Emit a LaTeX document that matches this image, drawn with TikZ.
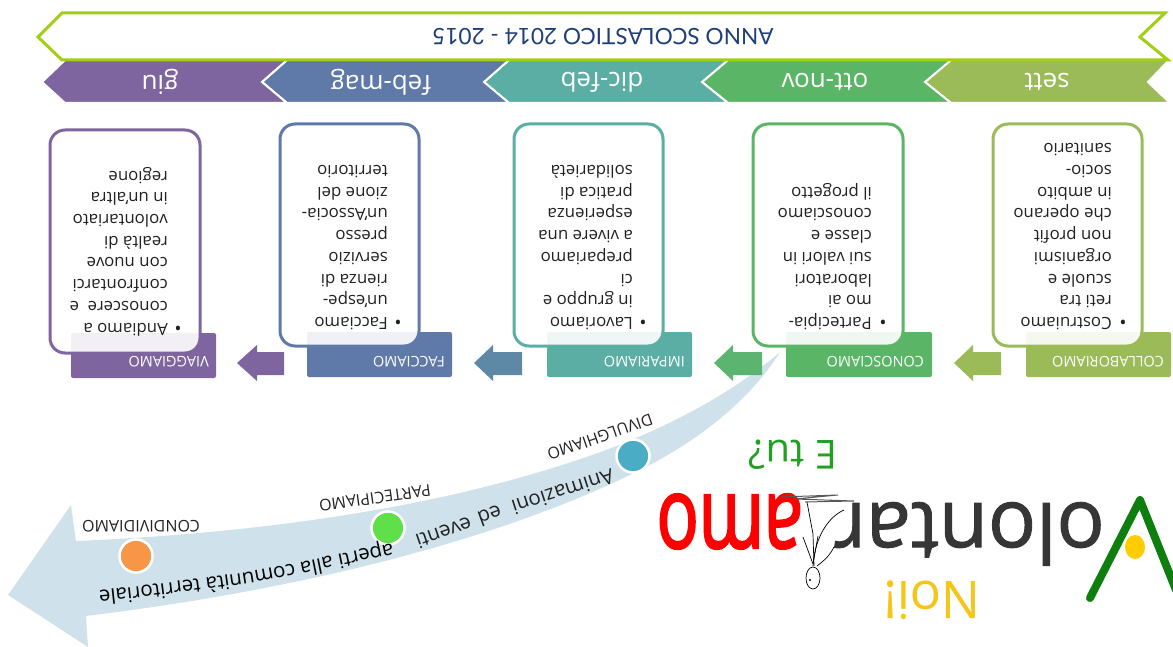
\documentclass[tikz,border=0pt]{standalone}
\usepackage{fontspec}
\setmainfont{Open Sans}
\newfontfamily\titlefont{Lato}
\newfontfamily\logofont[FakeBold=1.2]{Open Sans}
\newfontfamily\amofont[FakeBold=2.5]{Open Sans}
\usetikzlibrary{decorations.text}
\definecolor{cpurple}{HTML}{7F659F}
\definecolor{cblue}{HTML}{5F79A8}
\definecolor{cteal}{HTML}{5BAEA3}
\definecolor{cgreen}{HTML}{5BB566}
\definecolor{colive}{HTML}{9BBB59}
\definecolor{cban}{HTML}{A2CE14}
\definecolor{cnavy}{HTML}{1F3F7A}
\definecolor{csky}{HTML}{CFE2EB}
\definecolor{ctxt}{HTML}{222222}
\definecolor{cgrey}{HTML}{363636}
\definecolor{dotblue}{HTML}{4BACC6}
\definecolor{dotgreen}{HTML}{5FE04B}
\definecolor{dotorange}{HTML}{F79646}
\definecolor{logogreen}{HTML}{0E7F0E}
\definecolor{logoyellow}{HTML}{FFCC00}
\definecolor{noiyellow}{HTML}{F5C518}
\definecolor{tugreen}{HTML}{22A022}
\tikzset{
  updown/.style={rotate=180,inner sep=0pt},
  chev/.style={fill=#1,draw=white,line width=2pt,line join=miter},
  chevtext/.style={updown,text=white,font=\fontsize{26}{26}\selectfont},
  cardbox/.style={draw=#1,line width=3pt,fill=white,fill opacity=.9,rounded corners=15pt},
  labelbox/.style={fill=#1,rounded corners=2pt},
  labeltext/.style={updown,anchor=west,text=white,font=\fontsize{14.5}{14.5}\selectfont},
  bodytext/.style={updown,anchor=north west,align=left,text=ctxt,font=\fontsize{16.8}{21.7}\selectfont},
  bullettext/.style={updown,text=ctxt,font=\fontsize{19}{19}\selectfont},
  curvelabel/.style={updown,text=ctxt,font=\fontsize{16}{16}\selectfont},
  curvetext/.style={inner sep=0pt,text=ctxt,font=\fontsize{20.5}{20.5}\selectfont},
  dot/.style={circle,fill=#1,draw=white,line width=2.5pt,minimum size=33pt,inner sep=0pt},
  blockarrow/.style={fill=#1},
  figure/.style={draw=black,line width=.7pt}
}
\begin{document}
\begin{tikzpicture}[x=1pt,y=-1pt]
\useasboundingbox (0,0) rectangle (1173,647);
% chevrons
\draw[chev=colive] (925,82)--(951,60)--(1169,60)--(1148,82)--(1170,103)--(951,103)--cycle;
\draw[chev=cgreen] (702,82)--(728,60)--(951,60)--(925,82)--(951,103)--(728,103)--cycle;
\draw[chev=cteal] (484,82)--(509,60)--(728,60)--(702,82)--(728,103)--(509,103)--cycle;
\draw[chev=cblue] (262,82)--(287,60)--(509,60)--(484,82)--(509,103)--(287,103)--cycle;
\draw[chev=cpurple] (42,82)--(65,60)--(287,60)--(262,82)--(287,103)--(65,103)--cycle;
% banner
\draw[draw=cban,line width=3pt,fill=white,line join=miter] (38,37)--(62,13)--(1165,13)--(1140,37)--(1168,60)--(62,60)--cycle;
\node[updown,text=cnavy,font=\fontsize{22.6}{23}\titlefont] (title) at (603,37) {ANNO SCOLASTICO 2014 - 2015};
\node[chevtext] (m1) at (1047,82) {sett};
\node[chevtext] (m2) at (825,82) {ott-nov};
\node[chevtext] (m3) at (602,82) {dic-feb};
\node[chevtext] (m4) at (381,82) {feb-mag};
\node[chevtext] (m5) at (160,82) {giu};
% big curved arrow
\fill[csky] (780,352) .. controls (730,395) and (670,425) .. (614,447)
  .. controls (500,490) and (330,530) .. (76,541)
  -- (71,505) -- (8,595) -- (88,647) -- (86,616)
  .. controls (300,590) and (500,540) .. (640,470)
  .. controls (700,440) and (750,400) .. (780,352) -- cycle;
% label boxes
\fill[labelbox=cpurple] (71,333) rectangle (216,378);
\fill[labelbox=cblue] (307,332) rectangle (452,377);
\fill[labelbox=cteal] (547,332) rectangle (692,377);
\fill[labelbox=cgreen] (786,332) rectangle (932,377);
\fill[labelbox=colive] (1026,332) rectangle (1171,377);
% cards
\draw[cardbox=cpurple] (50,130) rectangle (200,353);
\draw[cardbox=cblue] (280,124) rectangle (419,346);
\draw[cardbox=cteal] (514,124) rectangle (663,346);
\draw[cardbox=cgreen] (753,124) rectangle (903,346);
\draw[cardbox=colive] (993,124) rectangle (1142,346);
% label text
\node[labeltext] (l5) at (209,362) {VIAGGIAMO};
\node[labeltext] (l4) at (445,362) {FACCIAMO};
\node[labeltext] (l3) at (685,362) {IMPARIAMO};
\node[labeltext] (l2) at (924,362) {CONOSCIAMO};
\node[labeltext] (l1) at (1164,362) {COLLABORIAMO};
% block arrows
\fill[blockarrow=cpurple] (237,363)--(257,345)--(257,352)--(284,352)--(284,375)--(257,375)--(257,381)--cycle;
\fill[blockarrow={cblue!70!cteal}] (474,363)--(493,345)--(493,352)--(522,352)--(522,375)--(493,375)--(493,381)--cycle;
\fill[blockarrow={cgreen!85!cteal}] (714,363)--(733,345)--(733,352)--(762,352)--(762,375)--(733,375)--(733,381)--cycle;
\fill[blockarrow=colive] (954,363)--(973,345)--(973,352)--(1001,352)--(1001,375)--(973,375)--(973,381)--cycle;
% body text
\node[bullettext] (b5) at (178,326) {•};
\node[bodytext] (t5) at (168,336) {Andiamo a\\conoscere\ \ e\\confrontarci\\con nuove\\realtà di\\volontariato\\in un'altra\\regione};
\node[bullettext] (b4) at (398,320) {•};
\node[bodytext] (t4) at (388,330) {Facciamo\\un'espe-\\rienza di\\servizio\\presso\\un'Associa-\\zione del\\territorio};
\node[bullettext] (b3) at (643,320) {•};
\node[bodytext] (t3) at (633,330) {Lavoriamo\\in gruppo e\\ci\\prepariamo\\a vivere una\\esperienza\\pratica di\\solidarietà};
\node[bullettext] (b2) at (883,320) {•};
\node[bodytext] (t2) at (872,330) {Partecipia-\\mo ai\\laboratori\\sui valori in\\classe e\\conosciamo\\il progetto};
\node[bullettext] (b1) at (1123,320) {•};
\node[bodytext] (t1) at (1112,330) {Costruiamo\\reti tra\\scuole e\\organismi\\non profit\\che operano\\in ambito\\socio-\\sanitario};
% curve content
\node[dot=dotblue] (d3) at (633,456) {};
\node[dot=dotgreen] (d2) at (388,528) {};
\node[dot=dotorange] (d1) at (136,556) {};
\node[curvelabel,rotate=19] (c3) at (600,437) {DIVULGHIAMO};
\node[curvelabel,rotate=8] (c2) at (375,498) {PARTECIPIAMO};
\node[curvelabel] (c1) at (141,526) {CONDIVIDIAMO};
\node[curvetext,rotate=198] (e1) at (563,492) {Animazioni};
\node[curvetext,rotate=200] (e2) at (490,516) {ed};
\node[curvetext,rotate=199] (e3) at (444,533) {eventi};
\path[decorate,decoration={text along path,text align=left,
  text={|\fontsize{20.5}{20.5}\selectfont|aperti alla comunità territoriale}}]
  plot[smooth] coordinates {(392,543)(316,559)(248,572)(149,585)(96,591)(70,594)};
% logo
\draw[draw=logogreen,line width=8pt,line cap=round,line join=round] (1090,598)--(1140,500)--(1176,590);
\fill[logoyellow] (1135,547) ellipse [x radius=10pt,y radius=12pt];
\node[updown,text=cgrey,font=\fontsize{80}{80}\logofont,anchor=base west,yscale=1.03,transform shape] (v) at (1105,503) {olontar};
\node[updown,text=red,font=\fontsize{66}{66}\amofont,anchor=base west,xscale=1.06,yscale=1.5,transform shape] (a) at (803,495) {amo};
\draw[figure] (813,578) ellipse [x radius=7pt,y radius=11pt];
\fill (810,580) circle [radius=1.2pt];
\draw[figure] (807,502)--(813,534)--(814,566);
\draw[figure] (844,510) .. controls (830,516) and (815,535) .. (813,566);
\draw[figure] (817,566) .. controls (825,560) and (830,555) .. (834,547);
\draw[figure] (803,537) -- (813,564);
\draw[figure] (818,536) -- (813,564);
\draw[figure,draw=gray!70!black,line width=1pt] (781,497)--(838,495)--(795,499)--(854,501)--(805,502);
\node[updown,text=noiyellow,font=\fontsize{52}{52}\selectfont] (n) at (932,600) {Noi!};
\node[updown,text=tugreen,font=\fontsize{40}{40}\selectfont] (u) at (793,455) {E tu?};
\end{tikzpicture}
\end{document}
